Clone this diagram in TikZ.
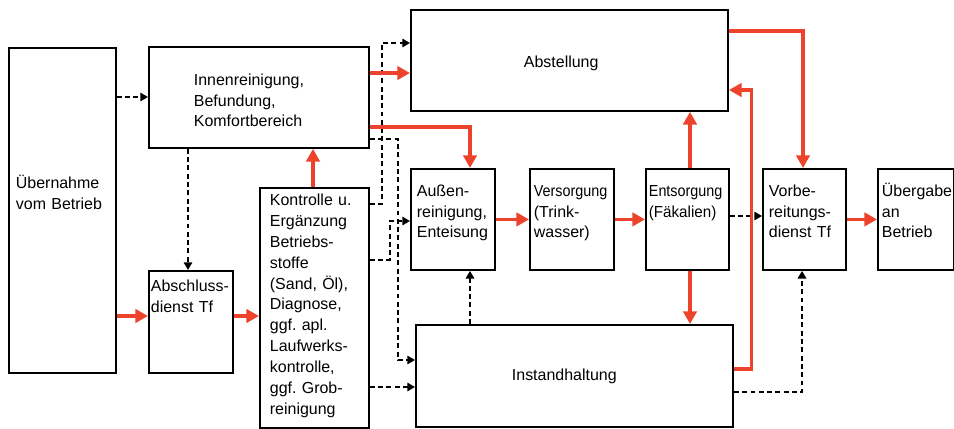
\documentclass[tikz,border=0pt]{standalone}
\usepackage{fontspec}
\setmainfont{Liberation Sans}
\usetikzlibrary{arrows.meta}
\definecolor{flowred}{RGB}{237,66,44}
\hyphenpenalty=10000
\exhyphenpenalty=10000
\frenchspacing

\begin{document}
\begin{tikzpicture}[x=0.025cm, y=-0.025cm,
    box/.style={draw, line width=1.3pt, anchor=north west, align=left, inner ysep=0pt,
      font=\fontsize{11.35}{14.5}\selectfont},
    flow/.style={draw=flowred, line width=2.2pt, -{Triangle[length=9pt, width=9.5pt]}},
    aux/.style={line width=1.3pt, dash pattern=on 3.5pt off 2.4pt, -{Triangle[length=5.5pt, width=6pt]}}]
    \useasboundingbox (0, 0) rectangle (954, 428);

    % Left column
    \node [box, inner xsep=0.175cm, text width=2.325cm, text height=3.525cm, text depth=4.6cm]
      (uebernahme) at (8, 47) {Übernahme\\vom Betrieb};
    \node [box, inner xsep=1.125cm, text width=3.25cm, text height=0.975cm, text depth=1.55cm]
      (innen) at (148, 46) {Innenreinigung,\\Befundung,\\Komfortbereich};
    \node [box, inner xsep=0.05cm, text width=2.0cm, text height=0.525cm, text depth=2.025cm]
      (abschluss) at (148, 270) {Abschluss-\\dienst Tf};
    \node [box, inner xsep=0.25cm, text width=2.225cm, text height=0.45cm, text depth=5.55cm,
      font=\fontsize{11.35}{14.8}\selectfont]
      (kontrolle) at (259, 187) {Kontrolle u.\\Ergänzung\\Betriebs-\\stoffe\\(Sand, Öl),\\Diagnose,\\ggf. apl.\\Laufwerks-\\kontrolle,\\ggf. Grob-\\reinigung};

    % Big boxes
    \node [box, inner xsep=2.825cm, text width=2.275cm, text height=1.45cm, text depth=1.075cm]
      (abstellung) at (410, 9) {Abstellung};
    \node [box, inner xsep=2.4cm, text width=3.125cm, text height=1.4cm, text depth=1.15cm]
      (instand) at (415, 324) {Instandhaltung};

    % Middle row
    \node [box, inner xsep=0.15cm, text width=1.8cm, text height=0.7cm, text depth=1.825cm]
      (aussen) at (410, 168) {Außen-\\reinigung,\\Enteisung};
    \node [box, inner xsep=0.1cm, text width=1.9cm, text height=0.7cm, text depth=1.825cm]
      (versorgung) at (529, 168) {\scalebox{0.9}[1]{Versorgung}\\(Trink-\\wasser)};
    \node [box, inner xsep=0.075cm, text width=1.925cm, text height=0.7cm, text depth=1.825cm]
      (entsorgung) at (645, 168) {\scalebox{0.9}[1]{Entsorgung}\\\scalebox{0.95}[1]{(Fäkalien)}};
    \node [box, inner xsep=0.15cm, text width=1.775cm, text height=0.7cm, text depth=1.825cm]
      (vorbe) at (762, 168) {Vorbe-\\reitungs-\\dienst Tf};
    \node [box, inner xsep=0.1cm, text width=1.7cm, text height=0.7cm, text depth=1.825cm]
      (uebergabe) at (877, 168) {Übergabe\\an\\Betrieb};

    % Dashed connections
    \draw [aux] (uebernahme.east |- 0, 97) -- (innen.west |- 0, 97);
    \draw [aux] (innen.south -| 188, 0) -- (abschluss.north -| 188, 0);
    \draw [aux] (kontrolle.east |- 0, 204) -- ++(12, 0) |- (abstellung.west |- 0, 43);
    \draw [aux] (innen.east |- 0, 139) -- ++(28, 0) |- (instand.west |- 0, 360);
    \draw [aux] (kontrolle.east |- 0, 260) -- ++(20, 0) |- (aussen.west |- 0, 221);
    \draw [aux] (kontrolle.east |- 0, 387) -- (instand.west |- 0, 387);
    \draw [aux] (instand.north -| 470, 0) -- (aussen.south -| 470, 0);
    \draw [aux] (entsorgung.east |- 0, 216) -- (vorbe.west |- 0, 216);
    \draw [aux] (instand.east |- 0, 392) -| (vorbe.south -| 802, 0);

    % Main flow
    \draw [flow] (uebernahme.east |- 0, 316) -- (abschluss.west |- 0, 316);
    \draw [flow] (abschluss.east |- 0, 316) -- (kontrolle.west |- 0, 316);
    \draw [flow] (kontrolle.north -| 313, 0) -- (innen.south -| 313, 0);
    \draw [flow] (innen.east |- 0, 73) -- (abstellung.west |- 0, 73);
    \draw [flow] (innen.east |- 0, 127) -| (aussen.north -| 470, 0);
    \draw [flow] (aussen) -- (versorgung);
    \draw [flow] (versorgung) -- (entsorgung);
    \draw [flow] (vorbe) -- (uebergabe);
    \draw [flow] (entsorgung.north -| 690, 0) -- (abstellung.south -| 690, 0);
    \draw [flow] (entsorgung.south -| 690, 0) -- (instand.north -| 690, 0);
    \draw [flow] (abstellung.east |- 0, 31) -| (vorbe.north -| 803, 0);
    \draw [flow] (instand.east |- 0, 369) -- ++(18, 0) |- (abstellung.east |- 0, 90);
  \end{tikzpicture}
\end{document}
